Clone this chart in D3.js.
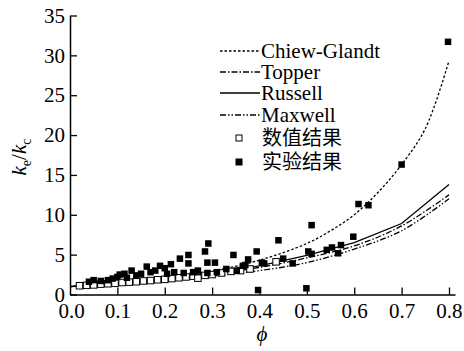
<!DOCTYPE html>
<html>
<head>
<meta charset="utf-8">
<script src="https://cdn.jsdelivr.net/npm/d3@7"></script>
</head>
<body style="margin:0">
<script>
const width = 464;
const height = 351;
const serifFont = 'Liberation Serif';

// model curves at these phi values
const phiGrid = [0, 0.1, 0.2, 0.3, 0.4, 0.5, 0.6, 0.7, 0.8];
const chiewPhi = [0, 0.1, 0.2, 0.3, 0.4, 0.5, 0.55, 0.6, 0.65, 0.7, 0.75, 0.8];
const chiewGlandt = [1.0, 1.45, 2.05, 2.95, 4.3, 6.4, 8.0, 10.0, 12.8, 16.3, 20.8, 29.3];
const topper = [1.0, 1.35, 1.85, 2.55, 3.4, 4.6, 6.1, 8.6, 12.5];
const russell = [1.0, 1.4, 1.95, 2.7, 3.6, 4.9, 6.5, 8.9, 13.8];
const maxwell = [1.0, 1.3, 1.7, 2.3, 3.0, 4.0, 5.7, 8.0, 12.0];

// 数值结果 (open squares)
const numPhi = [0.02, 0.035, 0.05, 0.065, 0.08, 0.095, 0.11, 0.125, 0.14, 0.155, 0.17, 0.185, 0.2, 0.215,
  0.23, 0.245, 0.26, 0.27, 0.285, 0.3, 0.32, 0.34, 0.36, 0.38, 0.435];
const numVal = [1.1, 1.15, 1.2, 1.3, 1.35, 1.4, 1.5, 1.55, 1.6, 1.7, 1.75, 1.85, 1.9, 2.0,
  2.1, 2.2, 2.3, 2.05, 2.4, 2.5, 2.7, 2.9, 3.0, 3.2, 4.1];

// 实验结果 (filled squares)
const expPhi = [0.04, 0.05, 0.065, 0.08, 0.09, 0.1, 0.105, 0.115, 0.12, 0.13, 0.14, 0.15, 0.162, 0.17,
  0.18, 0.19, 0.2, 0.205, 0.213, 0.22, 0.232, 0.24, 0.25, 0.25, 0.26, 0.27, 0.285, 0.29, 0.292, 0.29,
  0.306, 0.31, 0.33, 0.345, 0.352, 0.365, 0.37, 0.376, 0.394, 0.397, 0.405, 0.41, 0.44, 0.45, 0.47,
  0.499, 0.503, 0.51, 0.51, 0.542, 0.553, 0.566, 0.572, 0.598, 0.609, 0.63, 0.7, 0.798];
const expVal = [1.6, 1.8, 1.7, 1.8, 2.0, 2.2, 2.5, 2.6, 2.1, 3.0, 2.4, 2.6, 3.5, 2.8,
  3.0, 3.6, 3.3, 2.6, 3.8, 2.8, 4.5, 2.7, 4.96, 3.9, 2.8, 3.0, 5.4, 4.0, 6.4, 2.7,
  4.0, 2.8, 3.2, 4.96, 3.0, 3.6, 3.7, 4.4, 5.4, 0.56, 4.0, 3.9, 6.8, 4.5, 3.9,
  0.78, 5.4, 5.1, 8.7, 5.6, 5.9, 5.17, 6.2, 7.25, 11.35, 11.2, 16.3, 31.7];

const xTicks = [0, 0.1, 0.2, 0.3, 0.4, 0.5, 0.6, 0.7, 0.8];
const yTicks = [0, 5, 10, 15, 20, 25, 30, 35];

const svg = d3.select('body').append('svg')
    .attr('width', width)
    .attr('height', height);

const x = d3.scaleLinear().domain([0, 0.8127]).range([70, 455]);
const y = d3.scaleLinear().domain([0, 35]).range([294.5, 15.5]);

// axes drawn by hand-free d3 axis, then restyled
const xAxis = svg.append('g')
    .attr('transform', `translate(0,${y(0)})`)
    .call(d3.axisBottom(x).tickValues(xTicks).tickFormat(d3.format('.1f'))
        .tickSizeInner(-7).tickSizeOuter(0).tickPadding(9));

const yAxis = svg.append('g')
    .attr('transform', `translate(${x(0)},0)`)
    .call(d3.axisLeft(y).tickValues(yTicks)
        .tickSizeInner(-7).tickSizeOuter(0).tickPadding(5));

[xAxis, yAxis].forEach(function (g) {
    g.attr('font-family', null).attr('font-size', null);
    g.selectAll('.domain').attr('stroke', '#000').attr('stroke-width', 1.5);
    g.selectAll('.tick line').attr('stroke', '#000').attr('stroke-width', 1.3);
    g.selectAll('.tick text').attr('fill', '#000')
        .attr('font-family', serifFont).attr('font-size', 21);
});
xAxis.selectAll('.tick').filter(function (d) { return d === 0; }).select('line').remove();
xAxis.selectAll('.tick').filter(function (d) { return d === 0; }).select('text').attr('dx', 1);

// axis titles
svg.append('text')
    .attr('transform', 'translate(26,157) rotate(-90)')
    .attr('text-anchor', 'middle')
    .attr('font-family', serifFont)
    .attr('font-size', 21)
    .attr('font-style', 'italic')
    .call(function (t) {
        t.append('tspan').text('k');
        t.append('tspan').attr('dy', 5).attr('font-size', 14).attr('font-style', 'normal').text('e');
        t.append('tspan').attr('dy', -5).attr('font-style', 'normal').text('/');
        t.append('tspan').text('k');
        t.append('tspan').attr('dy', 5).attr('font-size', 14).attr('font-style', 'normal').text('c');
    });

svg.append('text')
    .attr('x', 262)
    .attr('y', 341)
    .attr('text-anchor', 'middle')
    .attr('font-family', serifFont)
    .attr('font-size', 21)
    .attr('font-style', 'italic')
    .text('\u03d5');

// curves
const models = [
    {name: 'Chiew-Glandt', phi: chiewPhi, values: chiewGlandt, dash: '2.5,2', curve: d3.curveCatmullRom},
    {name: 'Topper', phi: phiGrid, values: topper, dash: '6,2,1.5,2', curve: d3.curveCatmullRom},
    {name: 'Russell', phi: phiGrid, values: russell, dash: null, curve: d3.curveLinear},
    {name: 'Maxwell', phi: phiGrid, values: maxwell, dash: '6,2,1.5,2,1.5,2', curve: d3.curveCatmullRom}
];

models.forEach(function (m) {
    const line = d3.line()
        .x(function (d, i) { return x(m.phi[i]); })
        .y(function (d) { return y(d); })
        .curve(m.curve);
    svg.append('path')
        .attr('d', line(m.values))
        .attr('fill', 'none')
        .attr('stroke', '#000')
        .attr('stroke-width', 1.3)
        .attr('stroke-dasharray', m.dash);
});

// points
const sq = 6.5;
svg.append('g')
    .selectAll('rect')
    .data(numVal)
    .enter().append('rect')
    .attr('x', function (d, i) { return x(numPhi[i]) - sq / 2; })
    .attr('y', function (d) { return y(d) - sq / 2; })
    .attr('width', sq)
    .attr('height', sq)
    .attr('fill', '#fff')
    .attr('stroke', '#000')
    .attr('stroke-width', 1);

svg.append('g')
    .selectAll('rect')
    .data(expVal)
    .enter().append('rect')
    .attr('x', function (d, i) { return x(expPhi[i]) - sq / 2; })
    .attr('y', function (d) { return y(d) - sq / 2; })
    .attr('width', sq)
    .attr('height', sq)
    .attr('fill', '#000');

// legend
const rowY = [51, 72, 93, 115];
models.forEach(function (m, i) {
    svg.append('line')
        .attr('x1', 220).attr('x2', 260)
        .attr('y1', rowY[i]).attr('y2', rowY[i])
        .attr('stroke', '#000')
        .attr('stroke-width', 1.3)
        .attr('stroke-dasharray', m.dash);
    svg.append('text')
        .attr('x', 261).attr('y', rowY[i] + 7)
        .attr('font-family', serifFont)
        .attr('font-size', 21)
        .text(m.name);
});

const markerRows = [
    {label: '数值结果', y: 138, fill: '#fff'},
    {label: '实验结果', y: 162, fill: '#000'}
];
markerRows.forEach(function (r) {
    svg.append('rect')
        .attr('x', 239 - 3).attr('y', r.y - 3)
        .attr('width', 6).attr('height', 6)
        .attr('fill', r.fill)
        .attr('stroke', '#000')
        .attr('stroke-width', 1);
    svg.append('text')
        .attr('x', 262).attr('y', r.y + 7)
        .attr('font-family', 'Noto Sans CJK SC')
        .attr('font-size', 20)
        .text(r.label);
});
</script>
</body>
</html>
